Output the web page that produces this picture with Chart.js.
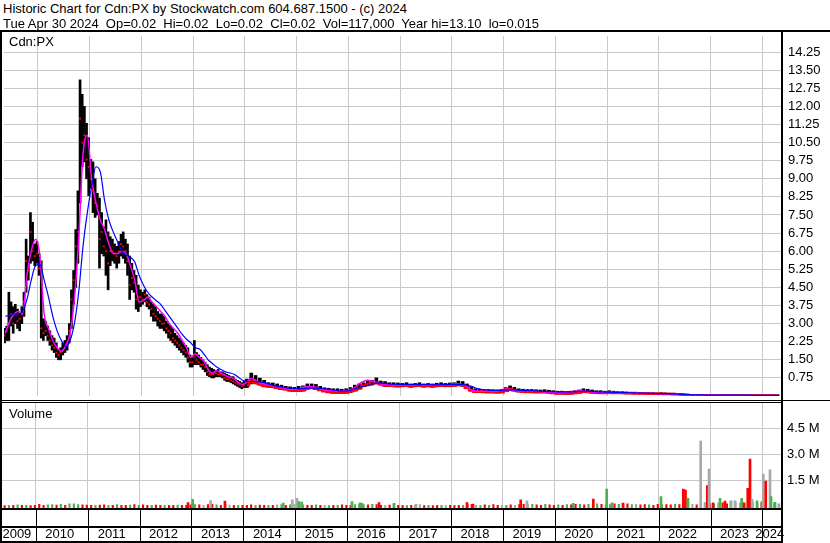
<!DOCTYPE html>
<html>
<head>
<meta charset="utf-8">
<script src="https://cdn.jsdelivr.net/npm/chart.js@4.4.1/dist/chart.umd.min.js"></script>
<style>
  html, body { margin:0; padding:0; background:#fff; }
  body { width:830px; height:543px; position:relative; overflow:hidden; font-family:"Liberation Sans", Arial, sans-serif; color:#000; }
  .txt { position:absolute; font-size:13px; line-height:13px; white-space:pre; }
  .ln { position:absolute; background:#000; }
  canvas { position:absolute; left:0; }
</style>
</head>
<body>
<canvas id="priceChart" width="830" height="368" style="top:32px"></canvas>
<canvas id="volChart" width="830" height="140" style="top:403px"></canvas>
<div class="txt" style="left:3px;top:2px">Historic Chart for Cdn:PX by Stockwatch.com 604.687.1500 - (c) 2024</div>
<div class="txt" style="left:3px;top:16.5px">Tue Apr 30 2024  Op=0.02  Hi=0.02  Lo=0.02  Cl=0.02  Vol=117,000  Year hi=13.10  lo=0.015</div>
<div class="txt" style="left:9px;top:35px">Cdn:PX</div>
<div class="txt" style="left:9px;top:407px">Volume</div>
<div class="ln" style="left:0;top:30px;width:830px;height:2px"></div>
<div class="ln" style="left:0;top:30px;width:2px;height:513px"></div>
<div class="ln" style="left:781px;top:30px;width:2px;height:513px"></div>
<div class="ln" style="left:0;top:400px;width:830px;height:1px"></div>
<div class="ln" style="left:0;top:402px;width:783px;height:1px"></div>
<div class="ln" style="left:0;top:508px;width:783px;height:2px"></div>
<div class="ln" style="left:0;top:526px;width:783px;height:2px"></div>
<div class="ln" style="left:0;top:541px;width:783px;height:2px"></div>
<script>
// ---------------- data ----------------
// Phase 1: half-monthly high/low/close, May 2009 - Dec 2013
const p1Start = 2009.36, p1Step = 1 / 24;
const priceHigh1 = [2.8,2.9,4.3,3.9,3.7,3.8,3.6,3.4,3.7,4.3, 6.5,5.8,7.6,7.2,6.3,6.4,5.9,5.6,3.2,3.1,
  2.9,2.7,2.5,2.4,2.2,1.9,2.0,2.2,2.3,2.5, 3.0,4.4,5.2,6.9,8.5,13.1,12.5,12.0,11.3,10.7,
  9.8,9.7,9.0,8.4,8.2,7.6,7.0,7.3,6.8,6.6, 6.5,6.3,6.2,6.4,6.7,6.8,6.5,6.3,5.8,5.5,
  5.2,5.0,4.6,4.4,4.3,4.4,4.2,4.1,3.9,3.8, 3.7,3.5,3.4,3.4,3.3,3.1,3.0,2.9,2.8,2.6,
  2.5,2.4,2.3,2.2,2.1,2.0,1.7,1.6,2.3,1.8, 1.7,1.6,1.5,1.4,1.3,1.2,1.15,1.1,1.05,1.1,
  1.0,1.0,0.95,0.9,0.85,0.8,0.8,0.7,0.65,0.6, 0.55,0.6];
const priceLow1 = [2.2,2.3,2.3,2.9,2.6,3.0,2.8,2.7,3.0,3.3, 4.3,4.8,5.5,5.6,5.4,5.5,5.0,2.4,2.3,2.5,
  2.3,2.1,1.9,1.8,1.6,1.5,1.5,1.7,1.8,1.9, 2.2,2.8,3.8,4.5,5.5,8.0,9.5,9.7,9.0,8.3,
  8.6,7.6,7.4,7.5,5.3,5.9,5.8,5.0,4.4,5.4, 5.6,5.5,5.3,5.5,5.8,5.7,5.5,5.0,4.0,4.4,
  4.3,3.6,3.5,3.7,3.8,3.9,3.7,3.6,3.3,3.1, 3.1,2.9,2.8,2.8,2.7,2.6,2.4,2.3,2.2,2.1,
  2.0,1.9,1.8,1.7,1.6,1.4,1.2,1.2,1.3,1.3, 1.3,1.2,1.1,1.0,0.85,0.8,0.75,0.75,0.8,0.8,
  0.8,0.75,0.65,0.6,0.6,0.55,0.5,0.45,0.4,0.35, 0.3,0.35];
const priceClose1 = [2.5,2.7,3.0,3.4,3.0,3.4,3.1,3.2,3.4,3.9, 5.6,5.2,6.8,6.0,5.8,5.9,5.3,2.8,2.6,2.7,
  2.5,2.3,2.1,2.0,1.8,1.7,1.8,1.9,2.0,2.2, 2.7,4.0,4.8,6.2,6.8,11.5,10.5,10.8,9.8,9.5,
  9.0,8.5,8.0,7.9,6.5,6.8,6.2,6.0,5.5,6.0, 6.0,5.9,5.8,6.0,6.3,6.2,6.0,5.6,4.6,4.9,
  4.7,4.0,4.1,4.1,4.0,4.2,3.9,3.8,3.6,3.4, 3.3,3.2,3.1,3.0,3.0,2.8,2.7,2.6,2.4,2.3,
  2.2,2.1,2.0,1.9,1.8,1.6,1.4,1.4,1.6,1.5, 1.4,1.3,1.3,1.2,1.0,0.9,0.9,0.9,0.95,0.9,
  0.9,0.85,0.75,0.7,0.7,0.65,0.6,0.55,0.5,0.45, 0.4,0.45];

// Phase 2: monthly high/low/close, Jan 2014 - Apr 2024
const p2Start = 2014 + 1 / 24, p2Step = 1 / 12;
const priceHigh2 = [
  0.7,0.95,0.85,0.74,0.65,0.55,0.54,0.5,0.45,0.4,0.38,0.36,
  0.4,0.42,0.5,0.5,0.48,0.4,0.34,0.32,0.3,0.3,0.28,0.3,
  0.35,0.45,0.5,0.55,0.62,0.65,0.75,0.62,0.6,0.55,0.55,0.54,
  0.52,0.55,0.5,0.52,0.55,0.5,0.52,0.5,0.53,0.55,0.52,0.54,
  0.55,0.62,0.6,0.5,0.38,0.3,0.28,0.27,0.27,0.26,0.25,0.27,
  0.35,0.42,0.36,0.3,0.28,0.27,0.27,0.26,0.25,0.26,0.24,0.22,
  0.2,0.2,0.18,0.2,0.22,0.25,0.3,0.28,0.25,0.22,0.22,0.2,
  0.22,0.2,0.18,0.18,0.17,0.16,0.16,0.15,0.15,0.14,0.14,0.13,
  0.14,0.13,0.12,0.12,0.11,0.1,0.08,0.06,0.05,0.05,0.04,0.04,
  0.04,0.035,0.035,0.03,0.03,0.03,0.03,0.04,0.03,0.03,0.03,0.03,
  0.03,0.03,0.03,0.025];
const priceLow2 = [
  0.35,0.5,0.5,0.45,0.38,0.36,0.34,0.3,0.28,0.25,0.2,0.18,
  0.18,0.2,0.28,0.3,0.28,0.22,0.18,0.15,0.12,0.1,0.1,0.12,
  0.15,0.2,0.28,0.38,0.42,0.45,0.5,0.45,0.4,0.4,0.38,0.38,
  0.38,0.4,0.36,0.38,0.4,0.37,0.38,0.36,0.38,0.4,0.38,0.38,
  0.4,0.42,0.4,0.3,0.2,0.15,0.15,0.15,0.14,0.14,0.13,0.14,
  0.18,0.22,0.2,0.17,0.15,0.15,0.15,0.14,0.14,0.14,0.12,0.1,
  0.08,0.08,0.07,0.08,0.1,0.12,0.14,0.14,0.12,0.1,0.1,0.1,
  0.1,0.1,0.1,0.1,0.09,0.09,0.09,0.08,0.08,0.08,0.08,0.07,
  0.07,0.07,0.06,0.06,0.06,0.04,0.03,0.02,0.02,0.02,0.02,0.02,
  0.02,0.02,0.02,0.02,0.02,0.02,0.02,0.015,0.015,0.015,0.015,0.015,
  0.015,0.015,0.015,0.015];
const priceClose2 = [
  0.45,0.6,0.55,0.5,0.42,0.4,0.38,0.34,0.3,0.28,0.24,0.22,
  0.22,0.25,0.32,0.34,0.3,0.25,0.2,0.17,0.15,0.13,0.13,0.15,
  0.2,0.25,0.32,0.42,0.48,0.52,0.55,0.5,0.45,0.42,0.42,0.4,
  0.42,0.44,0.4,0.42,0.44,0.4,0.42,0.4,0.42,0.44,0.42,0.42,
  0.44,0.48,0.45,0.34,0.24,0.18,0.18,0.17,0.16,0.16,0.15,0.16,
  0.22,0.28,0.24,0.2,0.18,0.17,0.17,0.16,0.16,0.16,0.14,0.12,
  0.1,0.1,0.09,0.1,0.12,0.15,0.18,0.17,0.15,0.13,0.12,0.12,
  0.13,0.12,0.12,0.12,0.11,0.11,0.1,0.1,0.1,0.09,0.09,0.09,
  0.09,0.08,0.08,0.07,0.07,0.05,0.04,0.03,0.03,0.03,0.025,0.025,
  0.025,0.025,0.02,0.02,0.02,0.02,0.02,0.02,0.02,0.02,0.02,0.02,
  0.02,0.02,0.02,0.02];

// Moving averages, monthly, May 2009 - Apr 2024
const maStart = 2009.375, maStep = 1 / 12;
const maShort = [2.6,3.1,3.4,3.5,3.4,5.0,6.0,6.5,5.8,3.4, 2.8,2.3,2.0,1.85,2.1,2.6,4.0,6.5,10.0,10.8,
  9.0,8.0,7.3,6.9,6.3,5.9,5.9,6.0,5.9,5.4, 4.8,3.9,3.95,4.1,3.9,3.7,3.5,3.3,3.0,2.8,
  2.6,2.3,2.0,1.6,1.75,1.6,1.45,1.1,0.95,1.05, 0.95,0.85,0.78,0.72,0.55,0.48,0.58,0.72,0.65,0.55,
  0.5,0.48,0.42,0.38,0.34,0.3,0.27,0.28,0.3,0.36, 0.38,0.38,0.36,0.3,0.25,0.24,0.22,0.2,0.2,0.22,
  0.27,0.35,0.5,0.6,0.65,0.62,0.55,0.5,0.47,0.46, 0.45,0.46,0.47,0.46,0.45,0.46,0.47,0.46,0.45,0.44,
  0.45,0.46,0.47,0.48,0.5,0.5,0.47,0.38,0.25,0.21, 0.2,0.2,0.2,0.19,0.2,0.25,0.3,0.27,0.24,0.22,
  0.22,0.21,0.2,0.2,0.19,0.17,0.16,0.15,0.15,0.14, 0.15,0.17,0.2,0.22,0.2,0.18,0.17,0.16,0.15,0.15,
  0.14,0.14,0.13,0.13,0.12,0.12,0.12,0.11,0.11,0.1, 0.1,0.1,0.09,0.09,0.08,0.07,0.06,0.05,0.04,0.035,
  0.03,0.03,0.03,0.03,0.03,0.03,0.03,0.03,0.03,0.025, 0.025,0.025,0.025,0.025,0.02,0.02,0.02,0.02,0.02,0.02];
const maLong = [3.3,3.35,3.4,3.4,3.5,4.0,4.8,5.4,5.45,4.8, 4.1,3.3,2.7,2.3,2.05,2.3,3.0,4.3,6.2,7.6,
  8.7,9.5,9.3,8.1,7.3,6.8,6.4,6.0,5.85,5.75, 5.55,5.0,4.6,4.3,4.1,3.95,3.8,3.55,3.3,3.05,
  2.8,2.55,2.35,2.2,2.0,1.95,1.75,1.5,1.35,1.2, 1.1,1.0,0.96,0.9,0.78,0.65,0.6,0.6,0.6,0.58,
  0.56,0.5,0.44,0.4,0.38,0.35,0.33,0.31,0.31,0.31, 0.32,0.33,0.33,0.32,0.3,0.28,0.25,0.22,0.2,0.2,
  0.24,0.3,0.35,0.4,0.44,0.5,0.53,0.53,0.52,0.5, 0.49,0.48,0.48,0.48,0.47,0.47,0.47,0.47,0.47,0.46,
  0.46,0.47,0.47,0.48,0.48,0.48,0.47,0.45,0.4,0.33, 0.29,0.26,0.24,0.23,0.23,0.24,0.25,0.25,0.25,0.24,
  0.23,0.22,0.22,0.21,0.2,0.19,0.18,0.18,0.17,0.17, 0.17,0.17,0.18,0.19,0.2,0.2,0.19,0.18,0.17,0.16,
  0.16,0.15,0.15,0.14,0.14,0.13,0.13,0.12,0.12,0.11, 0.11,0.1,0.1,0.1,0.09,0.09,0.08,0.07,0.06,0.05,
  0.05,0.045,0.04,0.04,0.04,0.04,0.04,0.04,0.04,0.035, 0.035,0.035,0.035,0.03,0.03,0.03,0.03,0.03,0.03,0.03];

// Volume (millions): monthly background and individual large days
const volStart = 2009.4, volStep = 1 / 12;
const volMonthly = [0.04,0.06,0.05,0.08,0.05,0.06,0.04,0.05,
  0.12,0.06,0.08,0.1,0.07,0.12,0.06,0.15,0.14,0.1,0.08,0.07,
  0.06,0.05,0.07,0.08,0.05,0.06,0.1,0.05,0.06,0.07,0.1,0.06,
  0.08,0.06,0.05,0.07,0.05,0.06,0.05,0.06,0.07,0.05,0.06,0.08,
  0.1,0.08,0.06,0.1,0.12,0.08,0.06,0.1,0.07,0.06,0.05,0.06,
  0.05,0.08,0.06,0.07,0.05,0.06,0.05,0.08,0.1,0.06,0.08,0.1,
  0.1,0.08,0.06,0.05,0.08,0.06,0.05,0.04,0.05,0.06,0.08,0.05,
  0.05,0.1,0.12,0.1,0.08,0.12,0.1,0.06,0.05,0.07,0.12,0.06,
  0.05,0.04,0.06,0.05,0.1,0.04,0.05,0.04,0.05,0.06,0.04,0.05,
  0.04,0.06,0.05,0.08,0.12,0.06,0.05,0.08,0.06,0.1,0.05,0.06,
  0.06,0.08,0.06,0.1,0.12,0.1,0.12,0.08,0.06,0.12,0.08,0.06,
  0.08,0.06,0.1,0.08,0.12,0.12,0.08,0.12,0.1,0.15,0.12,0.08,
  0.1,0.15,0.12,0.12,0.15,0.1,0.12,0.08,0.1,0.08,0.06,0.12,
  0.1,0.1,0.08,0.12,0.1,0.15,0.15,0.12,0.08,0.15,0.2,0.15,
  0.15,0.2,0.2,0.15,0.3,0.25,0.2,0.15,0.2,0.25,0.15,0.2,
  0.2,0.15,0.2,0.15];
const volMonthlyDir = ['rgrgrgrr','rrggrgrgggrr','rgrrgrgrrgrg','rrgrrgrrgrrr','grkrrgrrkrgr',
  'rrgrrgrkgrgk','kgrrgrkgrgrr','rgggrgrrkrgr','rgrrkrgrrgkr','rrgrrkgrgrrk','grkrrkgrrgrr',
  'grgrrgrgkgrg','grgrrgkrrgrr','grrgrrgkrkrr','gkrrgkkgrkgr','kgrg'].join('');
const volSpikeYear = [2012.933,2013.023,2013.368,2013.644,2014.769,2014.942,2015.033,2015.071,2015.123,2016.092,
  2016.247,2016.285,2016.613,2016.902,2017.326,2018.308,2018.424,2019.343,2019.464,2020.356,
  2020.742,2021.0,2021.102,2021.314,2022.046,2022.476,2022.518,2022.566,2022.811,2022.894,
  2022.938,2022.971,2023.048,2023.183,2023.279,2023.389,2023.472,2023.601,2023.646,2023.717,
  2023.761,2023.8,2023.896,2023.992,2024.017,2024.064,2024.146,2024.166,2024.243,2024.32];
const volSpike = [0.21,0.4,0.33,0.3,0.19,0.37,0.46,0.27,0.25,0.27,
  0.2,0.17,0.22,0.17,0.12,0.21,0.13,0.37,0.31,0.17,
  0.42,1.0,0.2,0.18,0.56,1.0,0.94,0.46,3.77,0.2,
  1.2,2.15,0.2,0.46,0.3,0.31,0.31,0.46,0.2,1.04,
  2.73,0.4,0.31,0.27,1.86,1.46,2.1,0.56,0.23,0.1];
const volSpikeDir = 'rgkrgkkggggg' + 'rgkrrrkgrggr' + 'grrgkkrkrgrk' + 'kgrrrkggkrkggk';

// Axis labels
const yearLabels = ['2009','2010','2011','2012','2013','2014','2015','2016','2017','2018','2019','2020','2021','2022','2023','2024'];
const priceTickValues = [0.75,1.5,2.25,3,3.75,4.5,5.25,6,6.75,7.5,8.25,9,9.75,10.5,11.25,12,12.75,13.5,14.25];
const volTickValues = [1.5,3,4.5];

// ---------------- chart setup ----------------
const X_MIN = 2009.349, X_MAX = 2024.358;
const GRID = '#c8c8c8';
const FONT = { family: '"Liberation Sans", Arial, sans-serif', size: 13 };
const DIR_COLOR = { r: '#ff0000', g: '#4caf50', k: '#a8a8a8' };
Chart.defaults.font.family = FONT.family;
Chart.defaults.font.size = 13;
Chart.defaults.color = '#000';

function noPad(s) { s.paddingLeft = 0; s.paddingRight = 0; s.paddingTop = 0; s.paddingBottom = 0; }

const yearBounds = yearLabels.slice(1).map(Number);
const labelTicks = yearLabels.map(l => {
  const y = Number(l);
  const a = Math.max(X_MIN, y), b = Math.min(X_MAX, y + 1);
  return { value: (a + b) / 2 - 2 / 51.9, label: l };
});

const bars1 = priceHigh1.map((h, i) => ({ x: p1Start + i * p1Step, y: [priceLow1[i], h] }));
const bars2 = priceHigh2.map((h, i) => ({ x: p2Start + i * p2Step, y: [priceLow2[i], h] }));
const close1 = priceClose1.map((c, i) => ({ x: p1Start + i * p1Step, y: c }));
const close2 = priceClose2.map((c, i) => ({ x: p2Start + i * p2Step, y: c }));
const shortPts = maShort.map((v, i) => ({ x: maStart + i * maStep, y: v }));
const longPts = maLong.map((v, i) => ({ x: maStart + i * maStep, y: v }));

const commonOpts = {
  responsive: false, animation: false, events: [],
  plugins: { legend: { display: false }, tooltip: { enabled: false } }
};

new Chart(document.getElementById('priceChart'), {
  type: 'bar',
  data: { datasets: [
    { type: 'line', data: longPts, borderColor: '#0000ff', borderWidth: 1.2, pointRadius: 0, cubicInterpolationMode: 'monotone', order: 1 },
    { type: 'line', data: shortPts, borderColor: '#ff00ff', borderWidth: 1.5, pointRadius: 0, cubicInterpolationMode: 'monotone', order: 2 },
    { type: 'line', data: close2, borderColor: '#ff0000', borderWidth: 2.5, pointRadius: 0, stepped: 'middle', order: 3 },
    { type: 'line', data: close1, showLine: false, pointStyle: 'rect', pointRadius: 1.3, pointBackgroundColor: '#ff0000', pointBorderWidth: 0, order: 3 },
    { type: 'bar', data: bars1, backgroundColor: '#000', barThickness: 2, grouped: false, minBarLength: 1, order: 4 },
    { type: 'bar', data: bars2, backgroundColor: '#000', barThickness: 3, grouped: false, minBarLength: 1, order: 4 }
  ]},
  options: Object.assign({}, commonOpts, {
    layout: { padding: { left: 2, right: 0, top: 0, bottom: 0 } },
    scales: {
      x: { type: 'linear', min: X_MIN, max: X_MAX, offset: false,
           afterBuildTicks: s => { s.ticks = yearBounds.map(v => ({ value: v })); },
           afterFit: s => { s.height = 0; noPad(s); },
           ticks: { display: false }, grid: { color: GRID, drawTicks: false, offset: false }, border: { display: false } },
      y: { position: 'right', min: 0, max: 14.917,
           afterBuildTicks: s => { s.ticks = priceTickValues.map(v => ({ value: v })); },
           afterFit: s => { s.width = 49; noPad(s); },
           ticks: { padding: 7, color: '#000', font: FONT, callback: v => Number(v).toFixed(2) },
           grid: { color: GRID, drawTicks: false }, border: { display: false } }
    }
  })
});

const volBg = volMonthly.map((v, i) => ({ x: volStart + i * volStep, y: v }));
const volBgColors = volMonthlyDir.split('').map(d => DIR_COLOR[d]);
const volSp = volSpike.map((v, i) => ({ x: volSpikeYear[i], y: v }));
const volSpColors = volSpikeDir.split('').map(d => DIR_COLOR[d]);
const VOL_MIN = -0.115;

const stripPlugin = {
  id: 'yearStrip',
  afterDraw(chart) {
    const ctx = chart.ctx, xs = chart.scales.x;
    ctx.save();
    ctx.fillStyle = '#000';
    yearBounds.forEach(y => {
      const px = Math.round(xs.getPixelForValue(y));
      ctx.fillRect(px, 107, 1, 31);
    });
    ctx.restore();
  }
};

const labelMap = new Map(labelTicks.map(t => [t.value, t.label]));
new Chart(document.getElementById('volChart'), {
  type: 'bar',
  data: { datasets: [
    { data: volSp, backgroundColor: volSpColors, barThickness: 2, grouped: false, base: VOL_MIN, order: 1 },
    { data: volBg, backgroundColor: volBgColors, barThickness: 1.5, grouped: false, base: VOL_MIN, order: 2 }
  ]},
  options: Object.assign({}, commonOpts, {
    layout: { padding: { left: 2, right: 0, top: 0, bottom: 0 } },
    scales: {
      x: { type: 'linear', min: X_MIN, max: X_MAX, offset: false,
           afterBuildTicks: s => {
             const t = yearBounds.map(v => ({ value: v })).concat(labelTicks.map(l => ({ value: l.value })));
             t.sort((a, b) => a.value - b.value);
             s.ticks = t;
           },
           afterFit: s => { s.height = 34.7; noPad(s); },
           ticks: { autoSkip: false, maxRotation: 0, minRotation: 0, padding: 18, color: '#000', font: FONT,
                    callback: v => labelMap.get(v) || '' },
           grid: { color: c => (c.tick && Number.isInteger(c.tick.value)) ? GRID : 'rgba(0,0,0,0)', drawTicks: false, offset: false },
           border: { display: false } },
      y: { position: 'right', min: VOL_MIN, max: 5.961,
           afterBuildTicks: s => { s.ticks = volTickValues.map(v => ({ value: v })); },
           afterFit: s => { s.width = 49; noPad(s); },
           ticks: { padding: 6, color: '#000', font: FONT, callback: v => Number(v).toFixed(1) + ' M' },
           grid: { color: GRID, drawTicks: false }, border: { display: false } }
    }
  }),
  plugins: [stripPlugin]
});
</script>
</body>
</html>
